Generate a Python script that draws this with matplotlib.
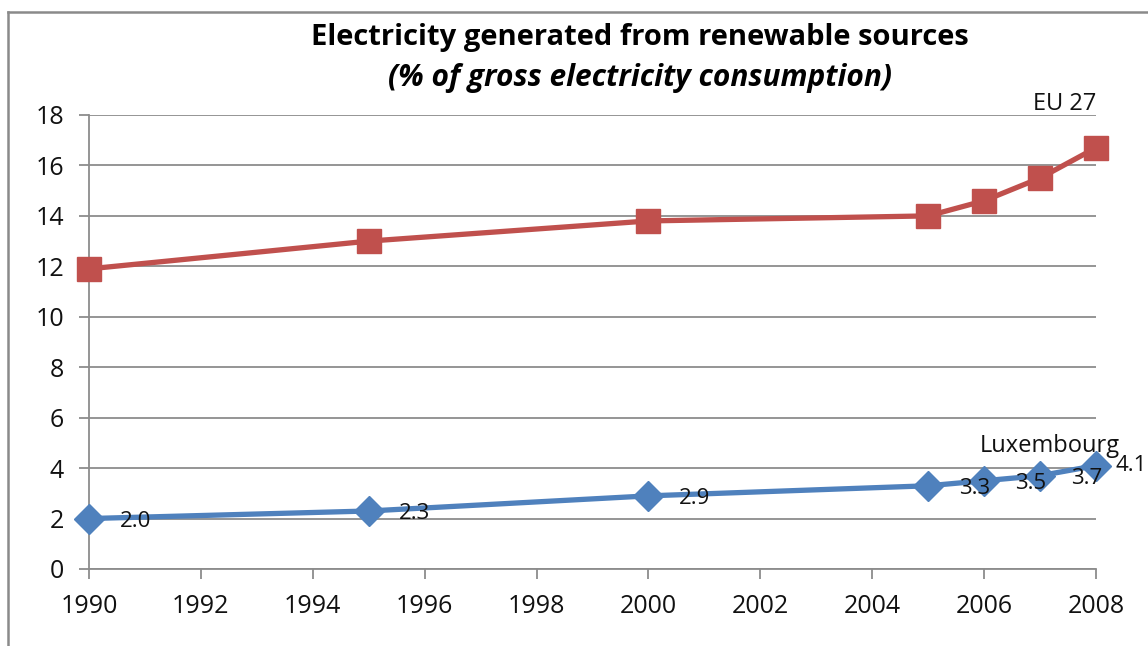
import matplotlib
matplotlib.use("Agg")
import matplotlib.pyplot as plt
from matplotlib.lines import Line2D

# ---- data ---------------------------------------------------------------- #
years = [1990, 1995, 2000, 2005, 2006, 2007, 2008]
eu27 = [11.9, 13.0, 13.8, 14.0, 14.6, 15.5, 16.7]
luxembourg = [2.0, 2.3, 2.9, 3.3, 3.5, 3.7, 4.1]
lux_labels = ["2.0", "2.3", "2.9", "3.3", "3.5", "3.7", "4.1"]
x_ticks = list(range(1990, 2009, 2))
y_ticks = list(range(0, 19, 2))

RED, BLUE, GRID = "#C0504D", "#4F81BD", "#8C8C8C"
plt.rcParams["font.family"] = ["Open Sans", "DejaVu Sans"]

W, H = 1148, 646
fig = plt.figure(figsize=(W / 100, H / 100), dpi=100)
ax = fig.add_axes([89 / W, 1 - 569 / H, (1096 - 89) / W, (569 - 115) / H])

# figure border (only top and left edges are visible in the crop)
fig.add_artist(Line2D([8 / W, 8 / W], [0, 1 - 12 / H], transform=fig.transFigure,
                      color="#8A8A8A", lw=1.8))
fig.add_artist(Line2D([8 / W, 1], [1 - 12 / H, 1 - 12 / H], transform=fig.transFigure,
                      color="#8A8A8A", lw=1.8))

ax.plot(years, eu27, color=RED, lw=3.8, marker="s", ms=17, clip_on=False, zorder=3)
ax.plot(years, luxembourg, color=BLUE, lw=3.8, marker="D", ms=15, clip_on=False, zorder=3)

for i, (x, y, t) in enumerate(zip(years, luxembourg, lux_labels)):
    off = (14, 0) if i == len(years) - 1 else (22, -2)
    ax.annotate(t, (x, y), xytext=off, textcoords="offset points",
                ha="left", va="center", fontsize=16, color="#111111", zorder=4)

ax.text(2008, 18.45, "EU 27", ha="right", va="center", fontsize=17, color="#111111")
ax.text(2007.18, 4.88, "Luxembourg", ha="center", va="center", fontsize=17, color="#111111")

ax.set_xlim(1990, 2008)
ax.set_ylim(0, 18)
ax.set_xticks(x_ticks)
ax.set_yticks(y_ticks)
ax.yaxis.grid(True, color=GRID, lw=1.3)
ax.set_axisbelow(True)
for s in ("top", "right"):
    ax.spines[s].set_visible(False)
for s in ("left", "bottom"):
    ax.spines[s].set_color(GRID)
    ax.spines[s].set_linewidth(1.3)
ax.tick_params(axis="both", colors=GRID, labelcolor="#111111", labelsize=18,
               length=7, width=1.3)
ax.tick_params(axis="y", pad=11)
ax.tick_params(axis="x", pad=11)

fig.text(640 / W, 1 - 38 / H, "Electricity generated from renewable sources",
         ha="center", va="center", fontsize=21, fontweight="bold")
fig.text(640 / W, 1 - 78 / H, "(% of gross electricity consumption)",
         ha="center", va="center", fontsize=21.5, fontweight="bold", style="italic")

fig.savefig("out.png", dpi=100)
